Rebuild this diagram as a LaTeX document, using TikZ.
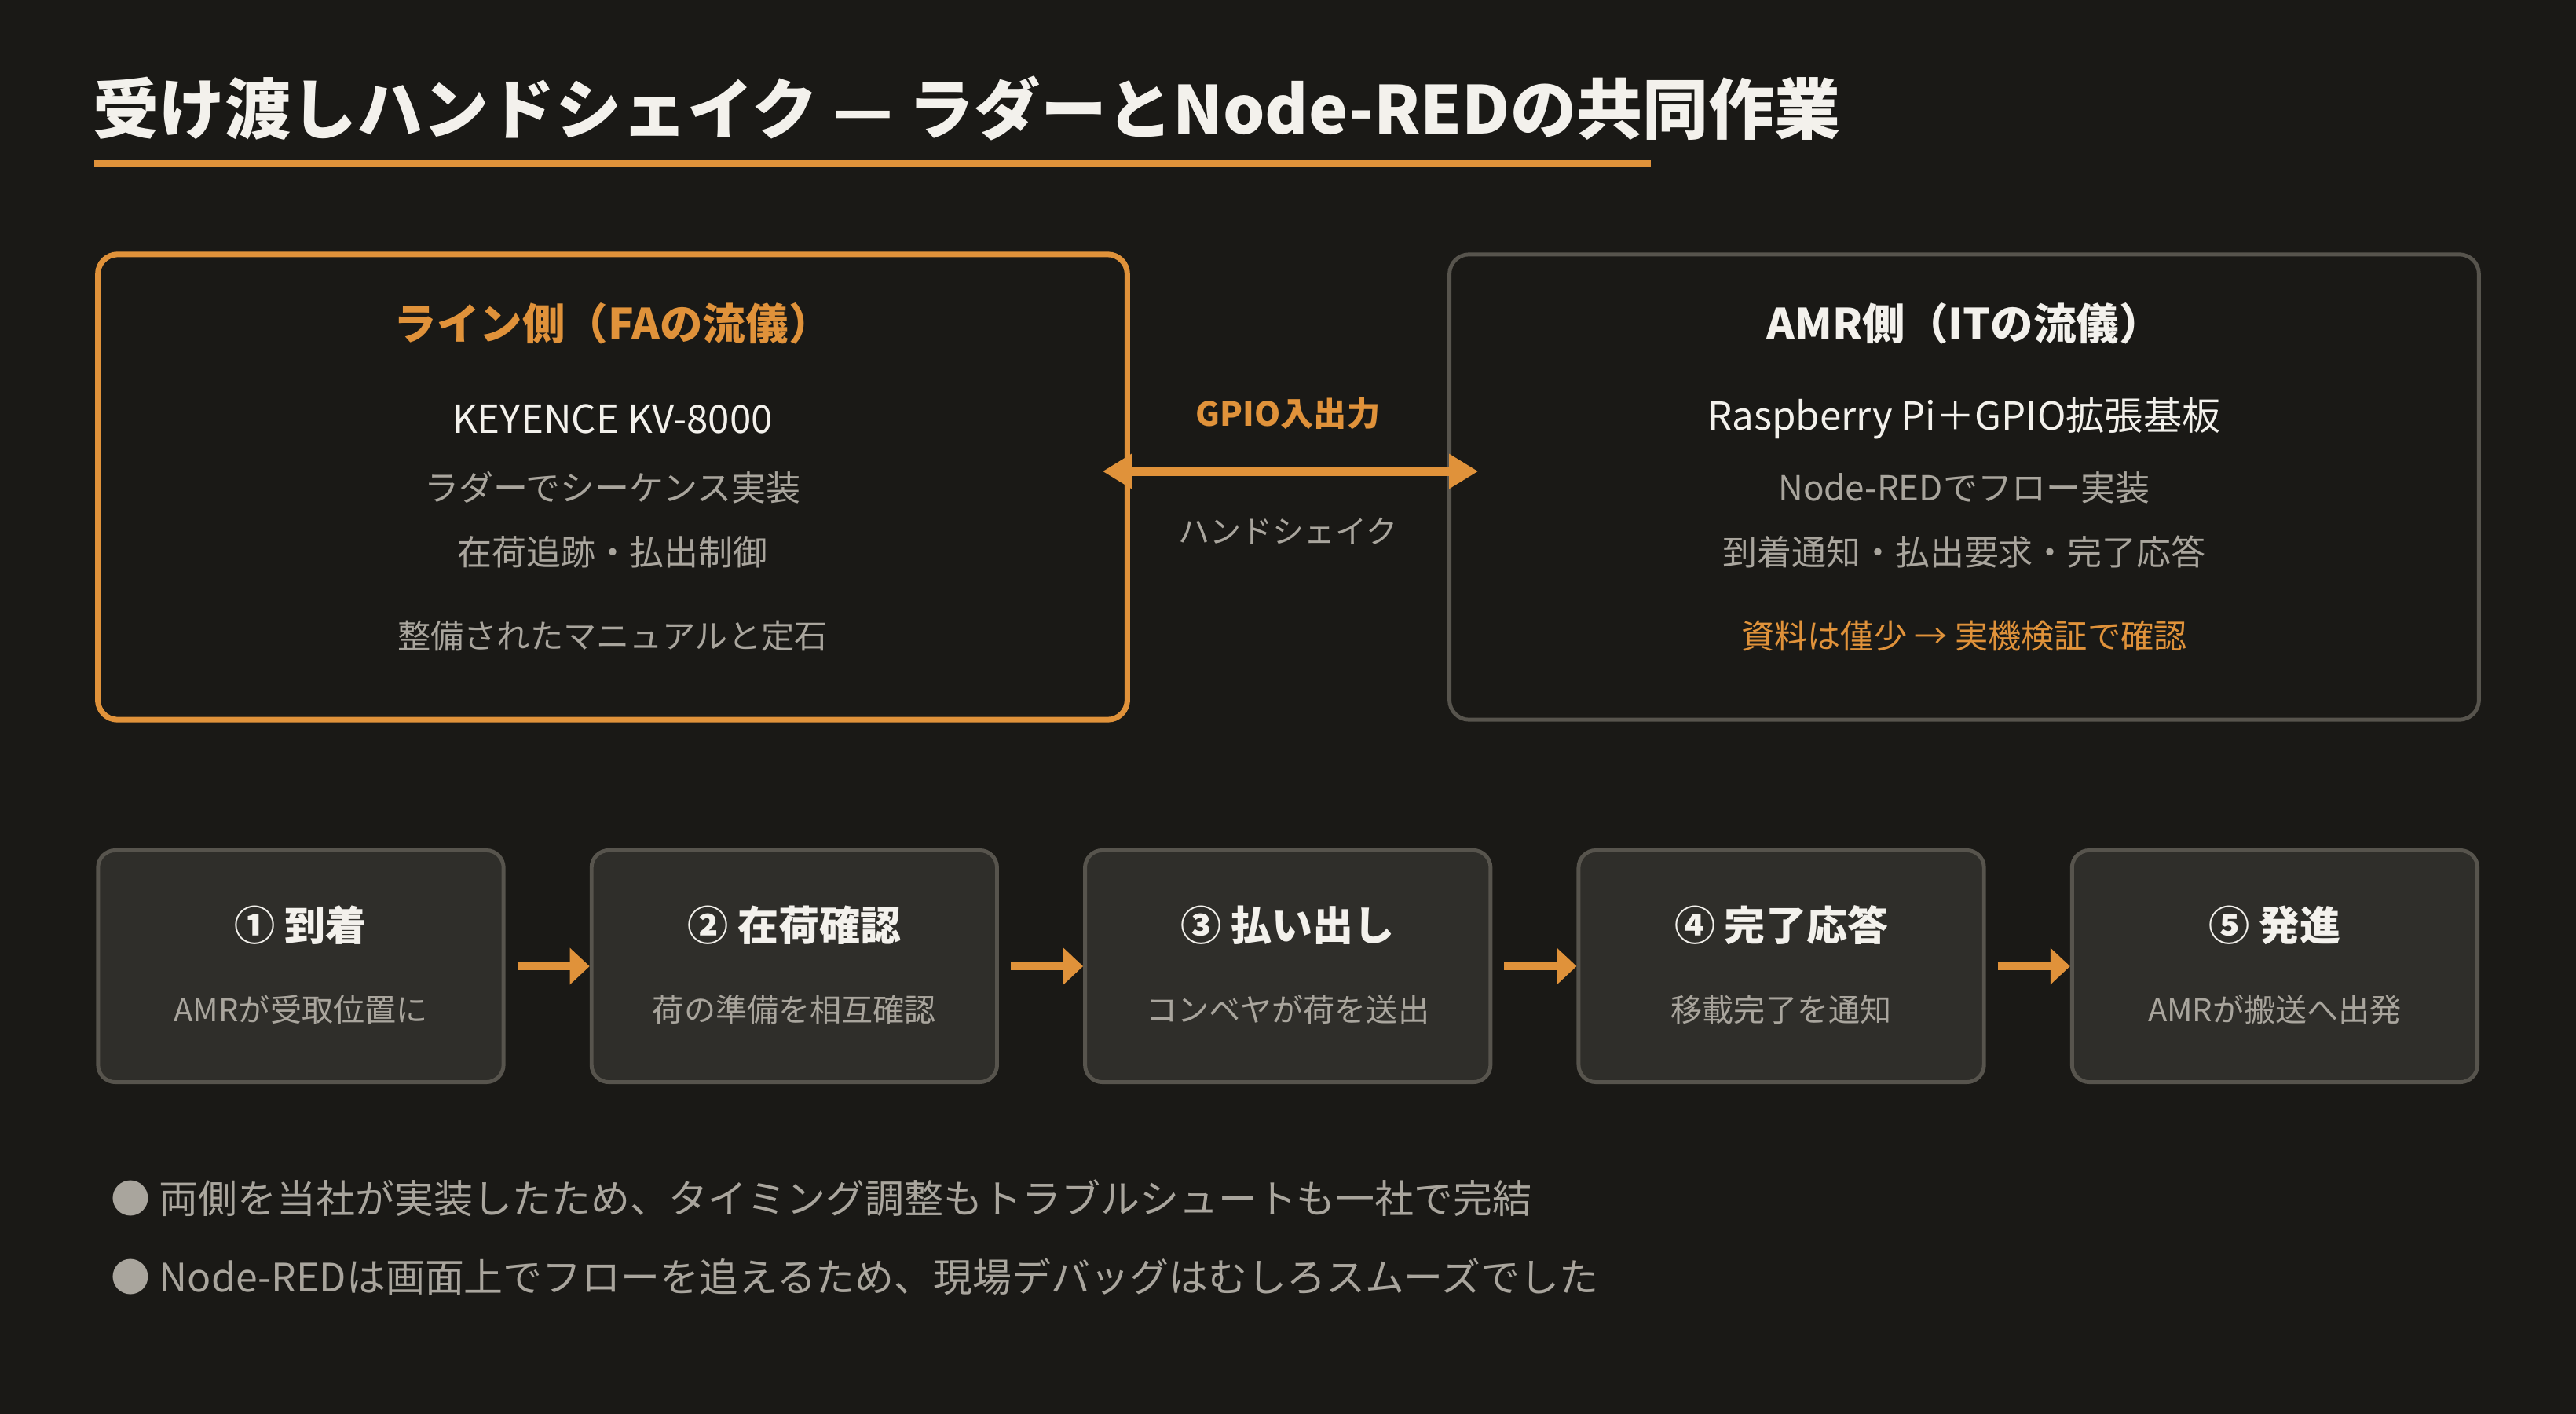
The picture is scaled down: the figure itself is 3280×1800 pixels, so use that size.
\documentclass[tikz,border=0pt]{standalone}
\usepackage{fontspec}
\setmainfont{Noto Sans CJK JP}
\usetikzlibrary{arrows.meta,calc}
\definecolor{bgdark}{HTML}{1A1916}
\definecolor{accent}{HTML}{E0923A}
\definecolor{ink}{HTML}{F3F1EC}
\definecolor{muted}{HTML}{A9A59D}
\definecolor{edge}{HTML}{57544D}
\definecolor{cardfill}{HTML}{2F2E2A}
\tikzstyle{txt} = [inner sep=0pt, text centered]
\tikzstyle{panel} = [draw, rectangle, rounded corners=0.25cm, minimum width=13.1cm, minimum height=5.92cm]
\tikzstyle{stepbox} = [draw=edge, fill=cardfill, line width=1.4pt, rectangle, rounded corners=0.22cm, minimum width=5.16cm, minimum height=2.95cm]
\tikzstyle{head} = [txt, font=\bfseries\fontsize{15.5pt}{18pt}\selectfont]
\tikzstyle{model} = [txt, text=ink, font=\fontsize{14pt}{16pt}\selectfont]
\tikzstyle{detail} = [txt, text=muted, font=\fontsize{12.5pt}{15pt}\selectfont]
\tikzstyle{remark} = [txt, font=\fontsize{12pt}{15pt}\selectfont]
\tikzstyle{steptitle} = [txt, text=ink, font=\bfseries\fontsize{14.8pt}{18pt}\selectfont]
\tikzstyle{stepsub} = [txt, text=muted, font=\fontsize{11.4pt}{14pt}\selectfont]
\tikzstyle{note} = [txt, anchor=west, text=muted, font=\fontsize{14.2pt}{17pt}\selectfont]
\tikzstyle{link} = [draw=accent, line width=0.12cm, {Triangle[length=0.37cm,width=0.42cm]}-{Triangle[length=0.37cm,width=0.42cm]}]
\tikzstyle{flow} = [draw=accent, line width=0.1cm, -{Triangle[length=0.25cm,width=0.45cm]}]

\begin{document}
\begin{tikzpicture}[x=0.01cm, y=-0.01cm, node distance=6.28cm]
        \fill[bgdark] (0,0) rectangle (3280,1800);
        \useasboundingbox (0,0) rectangle (3280,1800);
        % title
        \node[txt, anchor=west, text=ink, font=\bfseries\fontsize{23.9pt}{29pt}\selectfont] (title) at (118,138) {受け渡しハンドシェイク — ラダーとNode-REDの共同作業};
        \fill[accent] (120,204) rectangle (2102,213);
        % the two sides
        \node[panel, draw=accent, line width=2pt] (fa) at (780,620) {};
        \node[panel, draw=edge, line width=1.4pt] (amr) at (2501,620) {};
        \node[head, text=accent] (fahead) at (780,412) {ライン側（FAの流儀）};
        \node[model] (plc) at (780,533) {KEYENCE KV-8000};
        \node[detail] (ladder) at (780,621) {ラダーでシーケンス実装};
        \node[detail] (track) at (780,703) {在荷追跡・払出制御};
        \node[remark, text=muted] (manual) at (780,810) {整備されたマニュアルと定石};
        \node[head, text=ink] (amrhead) at (2501,412) {AMR側（ITの流儀）};
        \node[model] (rpi) at (2501,533) {Raspberry Pi＋GPIO拡張基板};
        \node[detail] (flowimpl) at (2501,621) {Node-REDでフロー実装};
        \node[detail] (signals) at (2501,703) {到着通知・払出要求・完了応答};
        \node[remark, text=accent] (docs) at (2501,810) {資料は僅少 → 実機検証で確認};
        \path[link] ($(fa.east)+(-35,-20)$) -- ($(amr.west)+(39,-20)$);
        \node[txt, text=accent, font=\bfseries\fontsize{12pt}{14pt}\selectfont] (gpio) at (1640,527) {GPIO入出力};
        \node[txt, text=muted, font=\fontsize{11.4pt}{14pt}\selectfont] (shake) at (1640,676) {ハンドシェイク};
        % handshake steps
        \node[stepbox] (s1) at (383,1230) {};
        \node[stepbox, right of=s1] (s2) {};
        \node[stepbox, right of=s2] (s3) {};
        \node[stepbox, right of=s3] (s4) {};
        \node[stepbox, right of=s4] (s5) {};
        \node[steptitle] (t1) at ($(s1)+(0,-52)$) {① 到着};
        \node[stepsub] (d1) at ($(s1)+(0,55)$) {AMRが受取位置に};
        \node[steptitle] (t2) at ($(s2)+(0,-52)$) {② 在荷確認};
        \node[stepsub] (d2) at ($(s2)+(0,55)$) {荷の準備を相互確認};
        \node[steptitle] (t3) at ($(s3)+(0,-52)$) {③ 払い出し};
        \node[stepsub] (d3) at ($(s3)+(0,55)$) {コンベヤが荷を送出};
        \node[steptitle] (t4) at ($(s4)+(0,-52)$) {④ 完了応答};
        \node[stepsub] (d4) at ($(s4)+(0,55)$) {移載完了を通知};
        \node[steptitle] (t5) at ($(s5)+(0,-52)$) {⑤ 発進};
        \node[stepsub] (d5) at ($(s5)+(0,55)$) {AMRが搬送へ出発};
        \foreach \a/\b in {s1/s2,s2/s3,s3/s4,s4/s5}
            \path[flow] ($(\a.east)+(15,0)$) -- (\b.west);
        % notes
        \node[note] (n1) at (141,1525) {● 両側を当社が実装したため、タイミング調整もトラブルシュートも一社で完結};
        \node[note] (n2) at (141,1625) {● Node-REDは画面上でフローを追えるため、現場デバッグはむしろスムーズでした};
    \end{tikzpicture}
\end{document}
